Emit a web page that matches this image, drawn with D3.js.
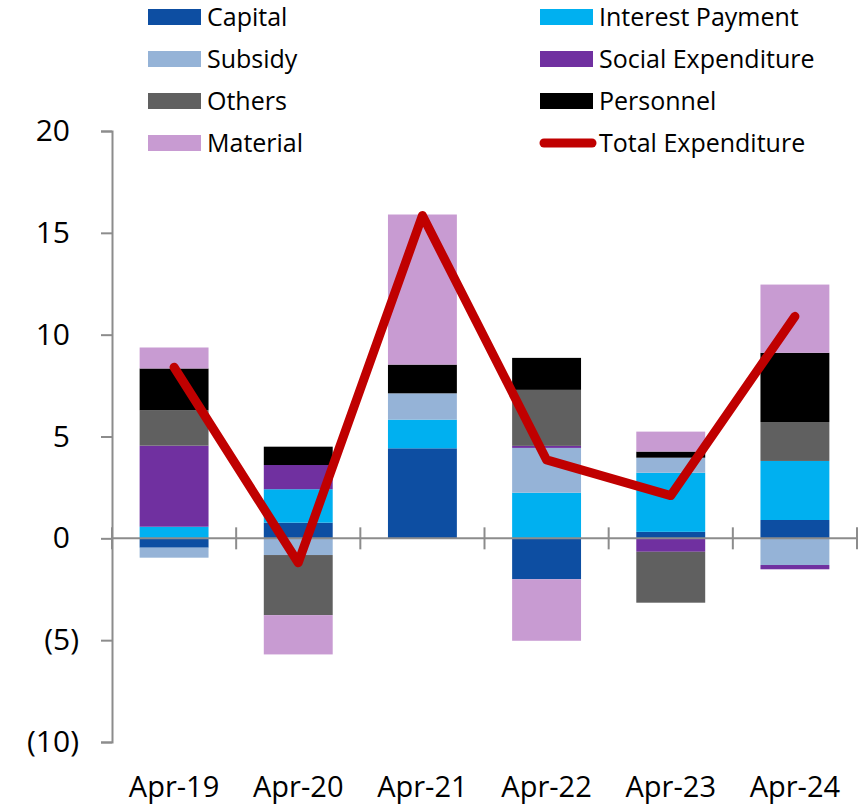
<!DOCTYPE html>
<html>
<head>
<meta charset="utf-8">
<script src="https://cdn.jsdelivr.net/npm/d3@7"></script>
<style>
  body { margin: 0; background: #fff; }
  svg { display: block; font-family: "Open Sans", "Noto Sans", sans-serif; }
</style>
</head>
<body>
<script>
// chart data
const categories = ["Apr-19", "Apr-20", "Apr-21", "Apr-22", "Apr-23", "Apr-24"];
const seriesNames = ["Capital", "Interest Payment", "Subsidy", "Social Expenditure", "Others", "Personnel", "Material"];
const capital     = [-0.46, 0.77, 4.42, -2.01, 0.32, 0.90];
const interest    = [0.57, 1.64, 1.41, 2.24, 2.90, 2.90];
const subsidy     = [-0.49, -0.82, 1.29, 2.20, 0.74, -1.31];
const social      = [3.98, 1.19, 0.00, 0.10, -0.66, -0.21];
const others      = [1.74, -2.95, 0.00, 2.75, -2.50, 1.91];
const personnel   = [2.05, 0.90, 1.41, 1.57, 0.30, 3.40];
const material    = [1.03, -1.93, 7.37, -3.02, 0.98, 3.35];
const totalExp    = [8.4, -1.2, 15.85, 3.85, 2.1, 10.9];
const yTicks = [-10, -5, 0, 5, 10, 15, 20];

const colors = ["#0d4ea2", "#00b0f0", "#95b3d7", "#7030a0", "#606060", "#000000", "#c89bd2"];
const seriesValues = [capital, interest, subsidy, social, others, personnel, material];

function viz(){
  const width = 858, height = 806;
  const svg = d3.select("body").append("svg")
      .attr("width", width).attr("height", height);

  // build rows for d3.stack
  const rows = categories.map((c, i) => {
    const r = { cat: c };
    seriesNames.forEach((s, j) => r[s] = seriesValues[j][i]);
    return r;
  });

  const x = d3.scaleBand().domain(categories).range([112, 857]).paddingInner(0.445).paddingOuter(0.2225);
  const xCenter = d3.scaleBand().domain(categories).range([112, 857]);
  const y = d3.scaleLinear().domain([-10, 20]).range([742, 131]);

  const stacked = d3.stack().keys(seriesNames).offset(d3.stackOffsetDiverging)(rows);

  // bars
  svg.append("g").selectAll("g").data(stacked).join("g")
     .attr("fill", (d, i) => colors[i])
     .selectAll("rect").data(d => d).join("rect")
     .attr("x", d => x(d.data.cat))
     .attr("width", x.bandwidth())
     .attr("y", d => y(Math.max(d[0], d[1])))
     .attr("height", d => Math.abs(y(d[0]) - y(d[1])));

  const axisColor = "#8c8c8c";

  // y axis, negatives in brackets, positives leave room for the bracket
  const yAxis = svg.append("g").attr("transform", "translate(112,0)")
     .call(d3.axisLeft(y).tickValues(yTicks).tickSize(11)
        .tickFormat(d => d < 0 ? "(" + Math.abs(d) + ")" : d));
  yAxis.select(".domain").attr("stroke", axisColor).attr("stroke-width", 2);
  yAxis.selectAll(".tick line").attr("stroke", axisColor).attr("stroke-width", 2);
  yAxis.selectAll(".tick text").attr("fill", "#000").attr("font-size", 30)
       .attr("font-family", "Open Sans, Noto Sans, sans-serif")
       .attr("x", d => d < 0 ? -33 : -42);

  // zero line with category boundary ticks
  const zeroG = svg.append("g");
  zeroG.append("line").attr("x1", 112).attr("x2", 857)
       .attr("y1", y(0)).attr("y2", y(0))
       .attr("stroke", axisColor).attr("stroke-width", 2);
  const bounds = categories.map(c => xCenter(c)).concat([857]);
  zeroG.selectAll("line.b").data(bounds).join("line").attr("class", "b")
       .attr("x1", d => d).attr("x2", d => d)
       .attr("y1", y(0) - 11).attr("y2", y(0) + 11)
       .attr("stroke", axisColor).attr("stroke-width", 2);

  // x labels
  svg.append("g").selectAll("text").data(categories).join("text")
     .attr("x", d => xCenter(d) + xCenter.bandwidth() / 2)
     .attr("y", 797)
     .attr("text-anchor", "middle").attr("font-size", 29)
     .text(d => d);

  // total expenditure line
  const line = d3.line()
     .x((d, i) => xCenter(categories[i]) + xCenter.bandwidth() / 2)
     .y(d => y(d));
  svg.append("path").datum(totalExp)
     .attr("d", line).attr("fill", "none")
     .attr("stroke", "#c00000").attr("stroke-width", 9)
     .attr("stroke-linecap", "round").attr("stroke-linejoin", "round");

  // legend
  const legendItems = seriesNames.map((s, i) => ({ name: s, color: colors[i], type: "rect" }))
     .concat([{ name: "Total Expenditure", color: "#c00000", type: "line" }]);
  const leg = svg.append("g").selectAll("g").data(legendItems).join("g")
     .attr("transform", (d, i) => `translate(${i % 2 === 0 ? 148 : 540},${17 + Math.floor(i / 2) * 42})`);
  leg.filter(d => d.type === "rect").append("rect")
     .attr("x", 0).attr("y", -8).attr("width", 53).attr("height", 16)
     .attr("fill", d => d.color);
  leg.filter(d => d.type === "line").append("line")
     .attr("x1", 4).attr("x2", 52).attr("y1", 0).attr("y2", 0)
     .attr("stroke", d => d.color).attr("stroke-width", 9).attr("stroke-linecap", "round");
  leg.append("text").attr("x", 59).attr("y", 9)
     .attr("font-size", 25).text(d => d.name);
}
viz();
</script>
</body>
</html>
